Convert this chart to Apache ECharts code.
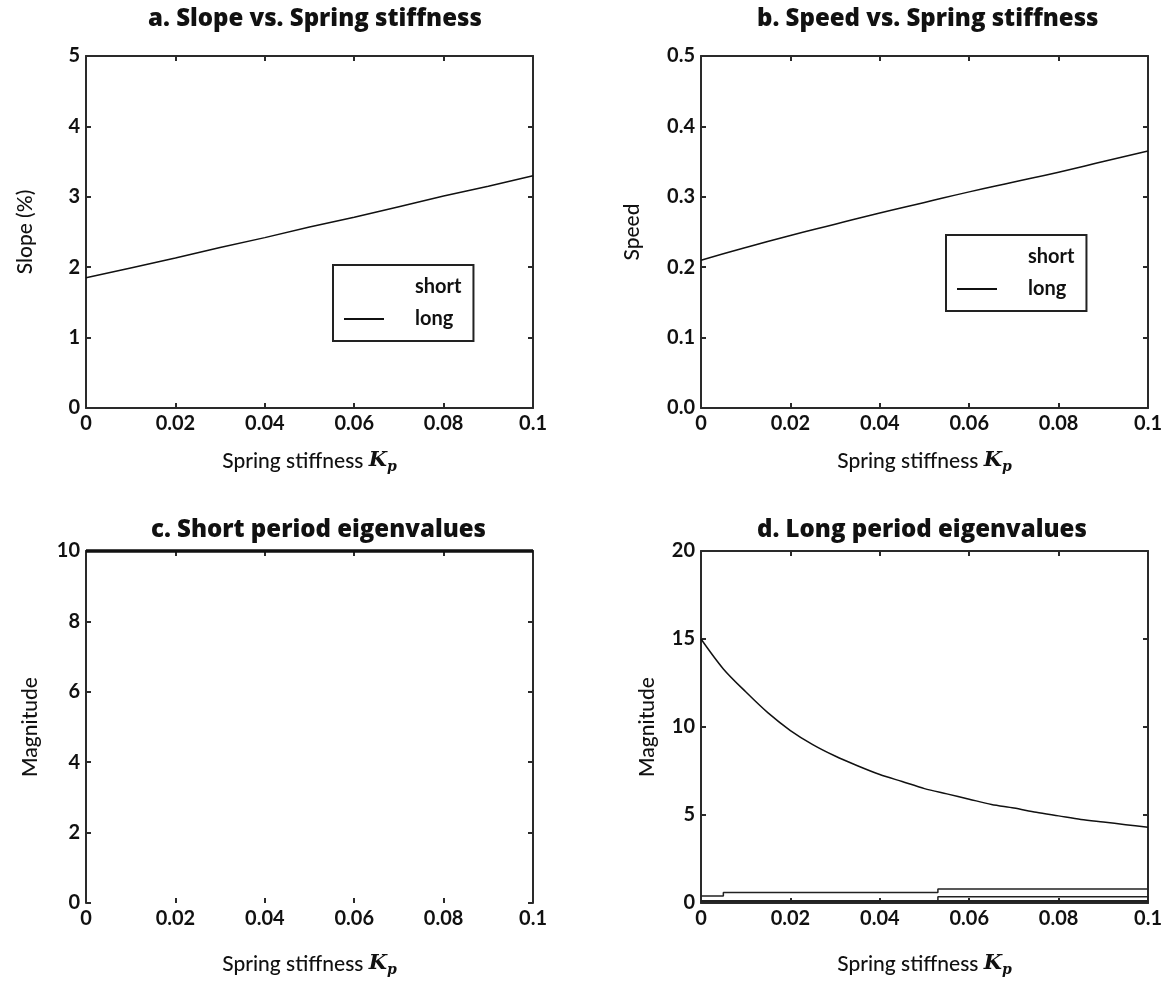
<!DOCTYPE html>
<html><head><meta charset="utf-8">
<script src="https://cdn.jsdelivr.net/npm/echarts@6/dist/echarts.min.js"></script>
<style>html,body{margin:0;padding:0;background:#fff}#c{width:1170px;height:983px}</style>
</head><body><div id="c"></div>
<script>
// ---- data ----
const titles = ['a. Slope vs. Spring stiffness','b. Speed vs. Spring stiffness','c. Short period eigenvalues','d. Long period eigenvalues'];
const xTicks = [0, 0.02, 0.04, 0.06, 0.08, 0.1];
const kp = [0, 0.01, 0.02, 0.03, 0.04, 0.05, 0.06, 0.07, 0.08, 0.09, 0.1];
const slopeLong = [1.85, 1.99, 2.13, 2.28, 2.42, 2.57, 2.71, 2.86, 3.01, 3.15, 3.30];
const speedLong = [0.210, 0.228, 0.245, 0.261, 0.277, 0.292, 0.307, 0.321, 0.335, 0.350, 0.365];
const shortMagX = [0, 0.1];
const shortMag = [10, 10];
const kpFine = [0,0.005,0.01,0.015,0.02,0.025,0.03,0.035,0.04,0.045,0.05,0.055,0.06,0.065,0.07,0.075,0.08,0.085,0.09,0.095,0.1];
const longMagHigh = [15.0,13.3,12.0,10.8,9.8,9.0,8.35,7.8,7.3,6.9,6.5,6.2,5.9,5.6,5.4,5.15,4.95,4.75,4.6,4.45,4.3];
const longLowAx = [0, 0.005, 0.053, 0.1];
const longLowA = [0.4, 0.6, 0.8, 0.8];
const longLowBx = [0, 0.053, 0.1];
const longLowB = [0.1, 0.35, 0.35];
const longLowC = [0.1, 0.1, 0.1];

const zip = (xs, ys) => xs.map((x, i) => [x, ys[i]]);

const FONT = 'Lato';
const axisCol = '#2a2a2a';
const grids = [
  {left: 86, right: 637, top: 56, bottom: 575},
  {left: 701, right: 22, top: 56, bottom: 575},
  {left: 86, right: 637, top: 551, bottom: 80},
  {left: 701, right: 22, top: 551, bottom: 80}
];
const yCfg = [
  {min: 0, max: 5, interval: 1, name: 'Slope (%)', gap: 50, fmt: v => String(v)},
  {min: 0, max: 0.5, interval: 0.1, name: 'Speed', gap: 58, fmt: v => v.toFixed(1)},
  {min: 0, max: 10, interval: 2, name: 'Magnitude', gap: 45, fmt: v => String(v)},
  {min: 0, max: 20, interval: 5, name: 'Magnitude', gap: 43, fmt: v => String(v)}
];
const xNameGap = [40, 40, 48, 48];

const tickStyle = {show: true, inside: true, length: 5, lineStyle: {color: axisCol, width: 2}};
const xAxes = [], yAxes = [];
grids.forEach((g, i) => {
  xAxes.push({
    type: 'value', gridIndex: i, min: 0, max: 0.1, interval: 0.02, position: 'bottom',
    axisLine: {show: i !== 2, onZero: false, lineStyle: {color: axisCol, width: 2}},
    axisTick: tickStyle,
    axisLabel: {color: '#111', fontFamily: FONT, fontWeight: 'bold', fontSize: 20, margin: 6,
      formatter: v => String(+v.toFixed(2))},
    splitLine: {show: false},
    name: 'Spring stiffness {i|K}{s|p}', nameLocation: 'middle', nameGap: xNameGap[i],
    nameTextStyle: {color: '#111', fontFamily: FONT, fontSize: 21, fontWeight: 500,
      rich: {i: {fontFamily: 'DejaVu Serif', fontStyle: 'italic', fontSize: 21, fontWeight: 'bold', color: '#111'},
             s: {fontFamily: 'DejaVu Serif', fontStyle: 'italic', fontSize: 14, fontWeight: 'bold', color: '#111', verticalAlign: 'bottom', padding: [12, 0, 0, 0]}}}
  });
  xAxes.push({
    type: 'value', gridIndex: i, min: 0, max: 0.1, interval: 0.02, position: 'top',
    axisLine: {show: true, onZero: false, lineStyle: {color: axisCol, width: 2}},
    axisTick: tickStyle,
    axisLabel: {show: false}, splitLine: {show: false}
  });
  const c = yCfg[i];
  yAxes.push({
    type: 'value', gridIndex: i, min: c.min, max: c.max, interval: c.interval, position: 'left',
    axisLine: {show: true, onZero: false, lineStyle: {color: axisCol, width: 2}},
    axisTick: tickStyle,
    axisLabel: {color: '#111', fontFamily: FONT, fontWeight: 'bold', fontSize: 20, margin: 6, formatter: c.fmt},
    splitLine: {show: false},
    name: c.name, nameLocation: 'middle', nameGap: c.gap,
    nameTextStyle: {color: '#111', fontFamily: FONT, fontSize: 21, fontWeight: 500}
  });
  yAxes.push({
    type: 'value', gridIndex: i, min: c.min, max: c.max, interval: c.interval, position: 'right',
    axisLine: {show: true, onZero: false, lineStyle: {color: axisCol, width: 2}},
    axisTick: tickStyle,
    axisLabel: {show: false}, splitLine: {show: false}
  });
});

const lineBase = {type: 'line', showSymbol: false, symbol: 'none', animation: false, silent: true};
const series = [
  Object.assign({}, lineBase, {name: 'short', xAxisIndex: 0, yAxisIndex: 0, data: [], lineStyle: {color: 'rgba(0,0,0,0)'}}),
  Object.assign({}, lineBase, {name: 'long', xAxisIndex: 0, yAxisIndex: 0, data: zip(kp, slopeLong), lineStyle: {color: '#111', width: 1.5}}),
  Object.assign({}, lineBase, {name: 'short', xAxisIndex: 2, yAxisIndex: 2, data: [], lineStyle: {color: 'rgba(0,0,0,0)'}}),
  Object.assign({}, lineBase, {name: 'long', xAxisIndex: 2, yAxisIndex: 2, data: zip(kp, speedLong), smooth: true, lineStyle: {color: '#111', width: 1.5}}),
  Object.assign({}, lineBase, {name: 'short period', xAxisIndex: 4, yAxisIndex: 4, data: zip(shortMagX, shortMag), clip: false, lineStyle: {color: '#111', width: 3.5}}),
  Object.assign({}, lineBase, {name: 'long period 1', xAxisIndex: 6, yAxisIndex: 6, data: zip(kpFine, longMagHigh), smooth: 0.3, lineStyle: {color: '#111', width: 1.5}}),
  Object.assign({}, lineBase, {name: 'long period 2', xAxisIndex: 6, yAxisIndex: 6, data: zip(longLowAx, longLowA), step: 'end', lineStyle: {color: '#222', width: 1.5}}),
  Object.assign({}, lineBase, {name: 'long period 3', xAxisIndex: 6, yAxisIndex: 6, data: zip(longLowBx, longLowB), step: 'end', lineStyle: {color: '#222', width: 1.5}}),
  Object.assign({}, lineBase, {name: 'long period 4', xAxisIndex: 6, yAxisIndex: 6, data: zip(longLowBx, longLowC), step: 'end', lineStyle: {color: '#222', width: 2.5}})
];

const legendBase = {
  data: ['short', 'long'], orient: 'vertical', itemWidth: 40, itemHeight: 14, itemGap: 12,
  borderColor: '#222', borderWidth: 2, padding: [12, 12, 12, 10], selectedMode: false,
  itemStyle: {opacity: 0},
  textStyle: {color: '#111', fontFamily: FONT, fontWeight: 'bold', fontSize: 20, padding: [0, 0, 0, 26]}
};

const titleStyle = {color: '#111', fontFamily: 'Open Sans', fontWeight: 800, fontSize: 24};
const chart = echarts.init(document.getElementById('c'), null, {renderer: 'canvas'});
chart.setOption({
  backgroundColor: '#fff',
  animation: false,
  title: [
    {text: titles[0], left: 143, top: 2, textStyle: titleStyle},
    {text: titles[1], left: 752, top: 2, textStyle: titleStyle},
    {text: titles[2], left: 146, top: 513, textStyle: titleStyle},
    {text: titles[3], left: 752, top: 513, textStyle: titleStyle}
  ],
  legend: [
    Object.assign({}, legendBase, {left: 333, top: 265}),
    Object.assign({}, legendBase, {left: 946, top: 235})
  ],
  grid: grids,
  xAxis: xAxes,
  yAxis: yAxes,
  series: series
});
</script></body></html>
